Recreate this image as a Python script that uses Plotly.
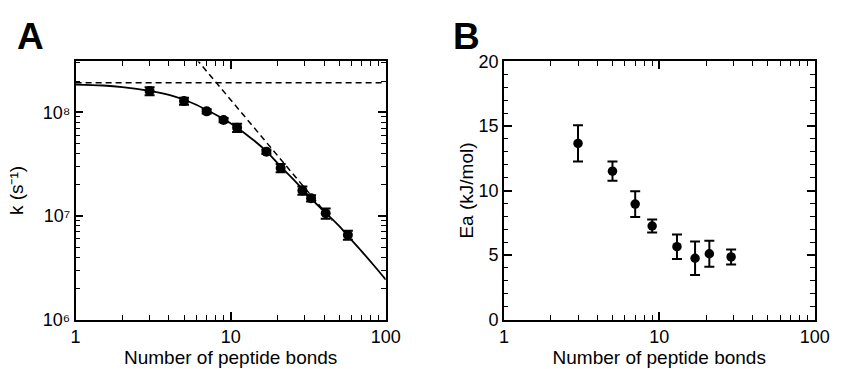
import plotly.graph_objects as go

# ---- Panel A: rate constant k versus number of peptide bonds ----
n_a = [3, 5, 7, 9, 11, 17, 21, 29, 33, 41, 57]
k_a = [1.6e8, 1.28e8, 1.02e8, 8.4e7, 7.1e7, 4.15e7, 2.9e7, 1.76e7, 1.48e7, 1.06e7, 6.55e6]
k_a_err = [1.45e7, 1.0e7, 5e6, 4e6, 6.5e6, 2e6, 2.6e6, 1.6e6, 1e6, 1.2e6, 6.5e5]

# fitted curve (solid)
fit_n = [1, 1.5, 2, 3, 4, 5, 6, 7, 9, 11, 14, 17, 21, 25, 29, 33, 41, 50, 57, 70, 85, 100]
fit_k = [1.85e8, 1.81e8, 1.75e8, 1.61e8, 1.47e8, 1.32e8, 1.18e8, 1.05e8, 8.6e7, 7.1e7,
         5.4e7, 4.2e7, 3.0e7, 2.3e7, 1.82e7, 1.47e7, 1.07e7, 8.0e6, 6.4e6, 4.55e6,
         3.25e6, 2.43e6]

# limiting behaviours (dashed): plateau and power-law asymptote
plateau_n = [1, 100]
plateau_k = [1.92e8, 1.92e8]
power_n = [6.0, 45]
power_k = [3.27e8, 9.06e6]

# ---- Panel B: activation energy versus number of peptide bonds ----
n_b = [3, 5, 7, 9, 13, 17, 21, 29]
ea_b = [13.65, 11.5, 8.95, 7.25, 5.65, 4.75, 5.1, 4.85]
ea_b_err = [1.4, 0.75, 1.0, 0.5, 0.95, 1.3, 1.0, 0.58]

# tick positions
x_major = [1, 10, 100]
x_minor = [m * 10 ** d for d in range(2) for m in range(2, 10)]
k_major = [1e6, 1e7, 1e8]
k_major_text = ["10\u2076", "10\u2077", "10\u2078"]
k_minor = [m * 10 ** d for d in range(6, 9) for m in range(2, 10) if m * 10 ** d <= 3.1e8]
ea_major = [0, 5, 10, 15, 20]
ea_minor = [v for v in range(0, 21) if v % 5]

FONT = "Liberation Sans, Arial, Helvetica, sans-serif"
BLACK = "black"
X_RANGE = [0, 2]
K_RANGE = [6, 8.49]
EA_RANGE = [0, 20]
DOM_A = [0.0856, 0.4615]
DOM_B = [0.6047, 0.9814]
DOM_Y = [0.113, 0.8526]

fig = go.Figure()

fig.add_trace(go.Scatter(x=plateau_n, y=plateau_k, mode="lines",
                         line=dict(color=BLACK, width=1.5, dash="6px,4px"),
                         xaxis="x", yaxis="y", showlegend=False))
fig.add_trace(go.Scatter(x=power_n, y=power_k, mode="lines",
                         line=dict(color=BLACK, width=1.5, dash="6px,4px"),
                         xaxis="x", yaxis="y", showlegend=False))
fig.add_trace(go.Scatter(x=fit_n, y=fit_k, mode="lines",
                         line=dict(color=BLACK, width=1.8, shape="spline", smoothing=1),
                         xaxis="x", yaxis="y", showlegend=False))
fig.add_trace(go.Scatter(x=n_a, y=k_a, mode="markers",
                         marker=dict(color=BLACK, size=10),
                         error_y=dict(type="data", array=k_a_err, color=BLACK,
                                      thickness=2, width=5),
                         xaxis="x", yaxis="y", showlegend=False))

fig.add_trace(go.Scatter(x=n_b, y=ea_b, mode="markers",
                         marker=dict(color=BLACK, size=9.5),
                         error_y=dict(type="data", array=ea_b_err, color=BLACK,
                                      thickness=2, width=5),
                         xaxis="x2", yaxis="y2", showlegend=False))

# empty traces that attach the minor-tick overlay axes to each panel
for xa, ya in (("x3", "y"), ("x", "y3"), ("x4", "y2"), ("x2", "y4")):
    fig.add_trace(go.Scatter(x=[], y=[], xaxis=xa, yaxis=ya, showlegend=False,
                             hoverinfo="skip"))

major_style = dict(
    showline=True, linecolor=BLACK, linewidth=1.5, mirror="ticks",
    ticks="inside", ticklen=8, tickwidth=1.5, tickcolor=BLACK,
    showgrid=False, zeroline=False,
    tickfont=dict(family=FONT, size=18, color=BLACK),
)
minor_style = dict(
    showline=True, linecolor=BLACK, linewidth=1.5, mirror="ticks",
    ticks="inside", ticklen=4.5, tickwidth=1, tickcolor=BLACK,
    showgrid=False, zeroline=False, showticklabels=False, tickmode="array",
)

x_title = dict(text="Number of peptide bonds",
               font=dict(family=FONT, size=19, color=BLACK), standoff=4)

fig.update_layout(
    width=845, height=369,
    margin=dict(l=0, r=0, t=0, b=0),
    paper_bgcolor="white", plot_bgcolor="white",
    xaxis=dict(major_style, type="log", range=X_RANGE, domain=DOM_A,
               tickmode="array", tickvals=x_major,
               ticktext=[str(v) for v in x_major], anchor="y", title=x_title),
    yaxis=dict(major_style, type="log", range=K_RANGE, domain=DOM_Y,
               tickmode="array", tickvals=k_major, ticktext=k_major_text, anchor="x",
               title=dict(text="k (s\u207b\u00b9)",
                          font=dict(family=FONT, size=19, color=BLACK), standoff=14)),
    xaxis2=dict(major_style, type="log", range=X_RANGE, domain=DOM_B,
                tickmode="array", tickvals=x_major,
                ticktext=[str(v) for v in x_major], anchor="y2", title=x_title),
    yaxis2=dict(major_style, range=EA_RANGE, domain=DOM_Y,
                tickmode="array", tickvals=ea_major, anchor="x2",
                title=dict(text="Ea (kJ/mol)",
                           font=dict(family=FONT, size=19, color=BLACK), standoff=0)),
    # minor ticks on overlay axes sharing each panel's scale
    xaxis3=dict(minor_style, type="log", range=X_RANGE, domain=DOM_A,
                overlaying="x", anchor="y", tickvals=x_minor),
    yaxis3=dict(minor_style, type="log", range=K_RANGE, domain=DOM_Y,
                overlaying="y", anchor="x", tickvals=k_minor),
    xaxis4=dict(minor_style, type="log", range=X_RANGE, domain=DOM_B,
                overlaying="x2", anchor="y2", tickvals=x_minor),
    yaxis4=dict(minor_style, range=EA_RANGE, domain=DOM_Y,
                overlaying="y2", anchor="x2", tickvals=ea_minor),
    annotations=[
        dict(text="<b>A</b>", x=10 / 845, y=1 - 28.5 / 369, xref="paper", yref="paper",
             xanchor="left", yanchor="middle", showarrow=False,
             font=dict(family=FONT, size=37, color=BLACK)),
        dict(text="<b>B</b>", x=457 / 845, y=1 - 28.5 / 369, xref="paper", yref="paper",
             xanchor="left", yanchor="middle", showarrow=False,
             font=dict(family=FONT, size=37, color=BLACK)),
    ],
)

fig.write_html("out.html")
